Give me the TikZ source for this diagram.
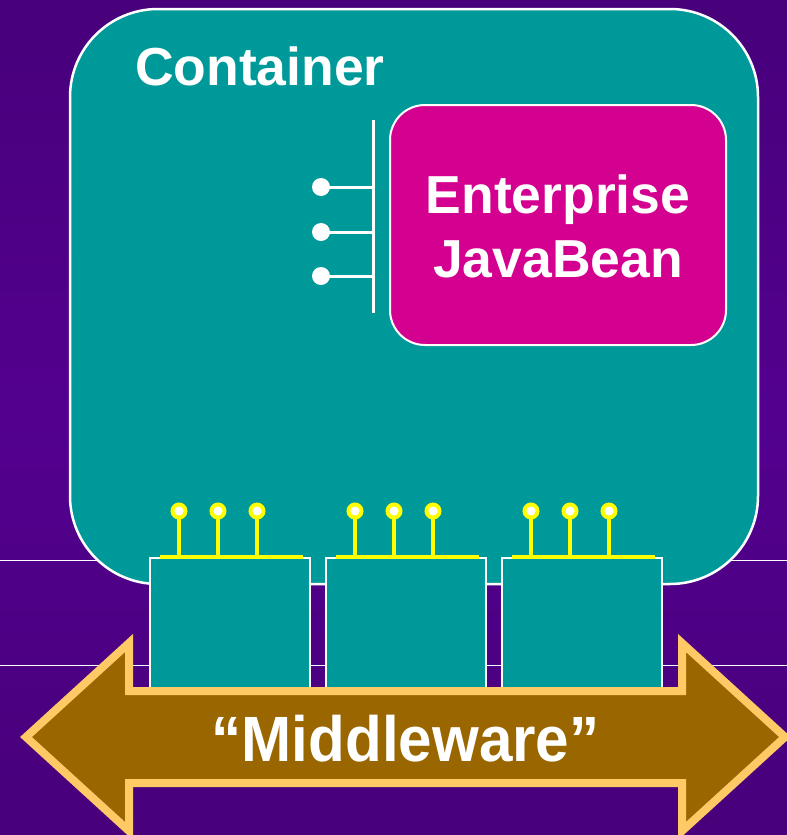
\documentclass[tikz,border=0pt]{standalone}
\usepackage{fontspec}
\setmainfont{Liberation Sans}
\definecolor{bgdark}{HTML}{3C0066}
\definecolor{bgmid}{HTML}{53008F}
\definecolor{teal}{HTML}{009999}
\definecolor{ejbpink}{HTML}{D4008F}
\definecolor{arrowfill}{HTML}{996600}
\definecolor{arrowedge}{HTML}{FFC966}
\definecolor{pinyellow}{HTML}{FFFF00}
\pgfdeclareverticalshading{bgshade}{100bp}{color(0bp)=(bgdark); color(50bp)=(bgmid); color(100bp)=(bgdark)}
\begin{document}
\begin{tikzpicture}[x=1pt,y=-1pt,
  every node/.style={inner sep=0pt,outer sep=0pt},
  container/.style={draw=white,line width=2.5pt,fill=teal,rounded corners=88pt,minimum width=688pt,minimum height=575pt},
  ejbbox/.style={draw=white,line width=2pt,fill=ejbpink,rounded corners=35pt,minimum width=336pt,minimum height=240pt},
  svcbox/.style={draw=white,line width=2pt,fill=teal,minimum width=160pt,minimum height=130pt},
  ifdot/.style={circle,fill=white,minimum size=18pt},
  ifline/.style={white,line width=3pt},
  pinhead/.style={circle,draw=pinyellow,line width=4pt,fill=white,minimum size=13pt},
  pinline/.style={pinyellow,line width=3.5pt},
  pinbar/.style={pinyellow,line width=4.5pt},
  guide/.style={white,line width=1pt},
  bigarrow/.style={draw=arrowedge,fill=arrowfill,line width=8pt,line join=miter},
  label/.style={text=white,font=\fontsize{53.5}{64}\selectfont\bfseries}
]
\useasboundingbox (0,0) rectangle (787,835);
\clip (0,0) rectangle (787,835);
\shade[shading=bgshade] (0,0) rectangle (787,835);

% thin guide lines
\coordinate (g1a) at (0,560); \coordinate (g1b) at (787,560);
\coordinate (g2a) at (0,665); \coordinate (g2b) at (787,665);
\draw[guide] (g1a) -- (g1b);
\draw[guide] (g2a) -- (g2b);

% container
\node[container] (cont) at (414,296.5) {};
\node[label,anchor=base west] (conttext) at (135,85) {Container};

% EJB
\node[ejbbox] (ejb) at (558,225) {};
\node[label,anchor=base] (ejb1) at (558,213) {Enterprise};
\node[label,anchor=base] (ejb2) at (558,277) {JavaBean};

% interface of the bean
\coordinate (vtop) at (373,120); \coordinate (vbot) at (373,313);
\draw[ifline] (vtop) -- (vbot);
\foreach \i/\y in {1/187,2/232,3/276}{
  \node[ifdot] (d\i) at (321,\y) {};
  \coordinate (j\i) at (373,\y);
  \draw[ifline] (d\i.center) -- (j\i);
}

% service boxes with pins
\foreach \b/\cx in {1/230,2/406,3/582}{
  \node[svcbox] (box\b) at (\cx,623) {};
  \coordinate (bl\b) at (\cx-70,557);
  \coordinate (br\b) at (\cx+73,557);
  \draw[pinbar] (bl\b) -- (br\b);
  \foreach \k/\dx in {1/-51,2/-12,3/27}{
    \node[pinhead] (p\b\k) at (\cx+\dx,511) {};
    \coordinate (pb\b\k) at (\cx+\dx,557);
    \draw[pinline] (p\b\k.south) -- (pb\b\k);
  }
}

% middleware arrow
\draw[bigarrow] (26,737) -- (129,643) -- (129,691) -- (682,691) -- (682,643)
  -- (785,737) -- (682,831) -- (682,783) -- (129,783) -- (129,831) -- cycle;
\node[text=white,font=\fontsize{64}{70}\selectfont\bfseries,anchor=base] (mw) at (405.5,761)
  {\scalebox{0.94}[1]{“Middleware”}};
\end{tikzpicture}
\end{document}
